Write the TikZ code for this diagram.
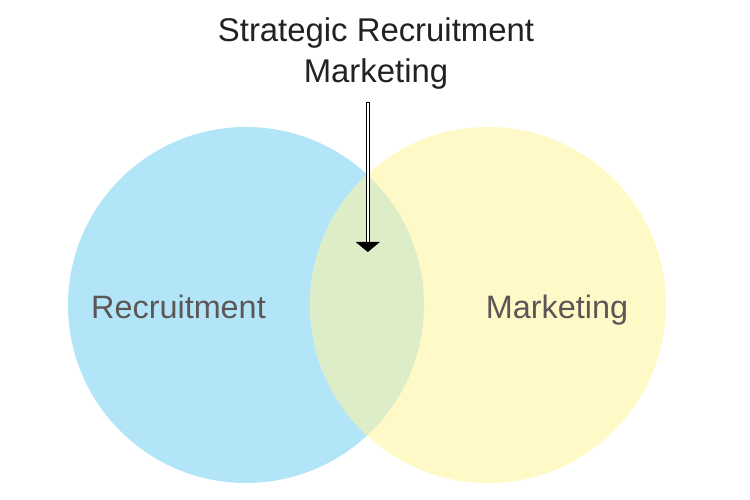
\documentclass[tikz,border=0pt]{standalone}
\usepackage{fontspec}
\setmainfont{Liberation Sans}
\usetikzlibrary{arrows.meta}
\definecolor{bleu}{HTML}{B3E5F8}
\definecolor{jaune}{HTML}{FFF9C8}
\definecolor{vert}{HTML}{DCEDC8}
\definecolor{titrecol}{HTML}{222222}
\definecolor{textecol}{HTML}{5D5656}
\begin{document}
\begin{tikzpicture}[x=1bp,y=-1bp,
  ensemble/.style={font=\fontsize{32.5}{40}\selectfont, text=textecol, inner sep=0pt, anchor=base},
  titre/.style={font=\fontsize{33}{42}\selectfont, text=titrecol, align=center, inner sep=0pt, anchor=base},
  tige/.style={draw, fill=white, line width=0.8bp, minimum width=3bp, minimum height=141bp, inner sep=0pt},
  fleche/.style={-{Triangle[width=24bp,length=10bp]}, line width=0.5bp}]
  \useasboundingbox (0,0) rectangle (750,500);

  % Les deux cercles
  \coordinate (CR) at (246,305);
  \coordinate (CM) at (488,305);
  \fill[bleu] (CR) circle(178);
  \fill[jaune] (CM) circle(178);

  % Intersection
  \begin{scope}
    \clip (CR) circle(178);
    \fill[vert] (CM) circle(178);
  \end{scope}

  % Titre
  \node[titre] (titre) at (376,83) {Strategic Recruitment\\Marketing};

  % Fleche
  \node[tige] (tige) at (367.8,172.5) {};
  \coordinate (pointe) at (367.8,252);
  \draw[fleche] (tige.south) -- (pointe);

  % Etiquettes
  \node[ensemble] (recrut) at (178.5,318) {Recruitment};
  \node[ensemble] (market) at (557,318) {Marketing};
\end{tikzpicture}
\end{document}
